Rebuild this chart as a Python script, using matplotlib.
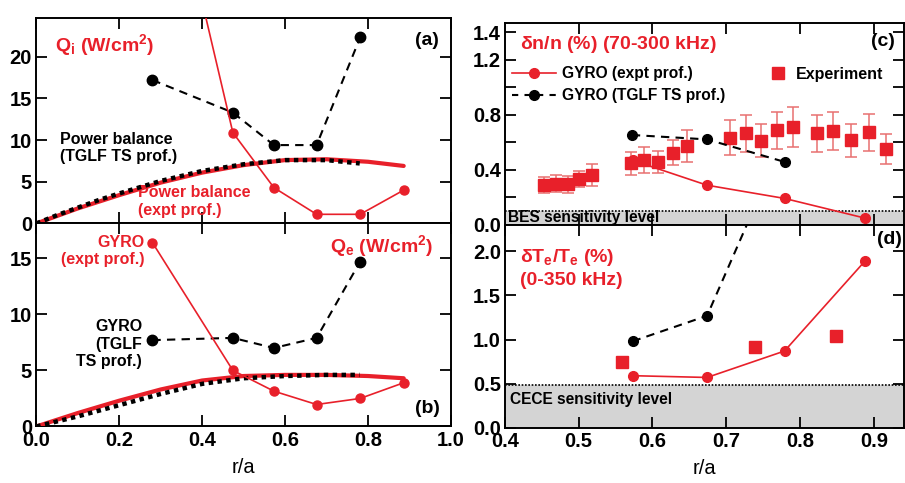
import matplotlib
matplotlib.use("Agg")
import matplotlib.pyplot as plt
from matplotlib.lines import Line2D

plt.rcParams['font.family'] = ['Liberation Sans', 'DejaVu Sans']
plt.rcParams['font.weight'] = 'bold'
plt.rcParams['mathtext.fontset'] = 'custom'
plt.rcParams['mathtext.rm'] = 'Liberation Sans:bold'
plt.rcParams['mathtext.it'] = 'Liberation Sans:bold'
plt.rcParams['mathtext.bf'] = 'Liberation Sans:bold'
plt.rcParams['mathtext.default'] = 'bf'

RED = '#e8202a'
ERR = '#e87070'

# ---------------- data ----------------
# GYRO radial points
r_gyro = [0.28, 0.474, 0.573, 0.676, 0.781, 0.886]
r_gyro_ts = [0.28, 0.474, 0.573, 0.676, 0.781]

# (a) ion heat flux Qi (W/cm^2)
qi_gyro_expt = [52.0, 10.9, 4.3, 1.1, 1.1, 4.0]
qi_gyro_ts = [17.2, 13.3, 9.4, 9.4, 22.3]
r_pb = [0, 0.05, 0.1, 0.15, 0.2, 0.3, 0.4, 0.5, 0.6, 0.7, 0.8, 0.886]
qi_pb_expt = [0, 0.9, 1.8, 2.6, 3.4, 4.9, 6.1, 7.0, 7.6, 7.7, 7.4, 6.9]
r_pb_ts = [0, 0.05, 0.1, 0.15, 0.2, 0.3, 0.4, 0.5, 0.6, 0.7, 0.78]
qi_pb_ts = [0, 1.0, 1.9, 2.8, 3.6, 5.1, 6.3, 7.1, 7.6, 7.6, 7.2]

# (b) electron heat flux Qe (W/cm^2)
qe_gyro_expt = [16.4, 5.0, 3.15, 1.96, 2.5, 3.9]
qe_gyro_ts = [7.7, 7.9, 7.0, 7.9, 14.7]
r_pbe = [0, 0.1, 0.2, 0.3, 0.4, 0.5, 0.6, 0.7, 0.8, 0.886]
qe_pb_expt = [0, 1.2, 2.3, 3.3, 4.1, 4.5, 4.6, 4.6, 4.5, 4.3]
r_pbe_ts = [0, 0.1, 0.2, 0.3, 0.4, 0.5, 0.6, 0.7, 0.78]
qe_pb_ts = [0, 0.9, 1.9, 2.9, 3.8, 4.3, 4.5, 4.6, 4.6]

# (c) density fluctuations dn/n (%)
r_bes = [0.453, 0.469, 0.485, 0.501, 0.518, 0.571, 0.589, 0.608, 0.628, 0.647,
         0.705, 0.727, 0.747, 0.769, 0.791, 0.823, 0.845, 0.869, 0.893, 0.917]
dn_exp = [0.29, 0.30, 0.296, 0.333, 0.365, 0.447, 0.474, 0.46, 0.526, 0.573,
          0.635, 0.667, 0.612, 0.687, 0.709, 0.667, 0.684, 0.617, 0.674, 0.55]
dn_err = [0.06, 0.06, 0.06, 0.06, 0.08, 0.085, 0.095, 0.08, 0.09, 0.115,
          0.13, 0.135, 0.12, 0.137, 0.145, 0.135, 0.14, 0.12, 0.135, 0.11]
r_dn_gyro = [0.573, 0.674, 0.779, 0.888]
dn_gyro_expt = [0.47, 0.289, 0.193, 0.05]
r_dn_gyro_ts = [0.572, 0.674, 0.78]
dn_gyro_ts = [0.654, 0.622, 0.457]
bes_level = 0.1

# (d) electron temperature fluctuations dTe/Te (%)
r_te_gyro = [0.573, 0.674, 0.779, 0.888]
dte_gyro_expt = [0.59, 0.57, 0.87, 1.89]
r_te_gyro_ts = [0.573, 0.674, 0.78]
dte_gyro_ts = [0.98, 1.27, 3.3]
r_cece = [0.559, 0.739, 0.849]
dte_exp = [0.74, 0.91, 1.04]
cece_level = 0.48

# ---------------- figure ----------------
fig = plt.figure(figsize=(9.05, 4.83), dpi=100)
axa = fig.add_axes([0.0401, 0.5373, 0.4582, 0.4248])
axb = fig.add_axes([0.0401, 0.1170, 0.4582, 0.4203])
axc = fig.add_axes([0.558, 0.5342, 0.4409, 0.4188])
axd = fig.add_axes([0.558, 0.1145, 0.4409, 0.4197])

TICK_FS = 14.5
for ax in (axa, axb, axc, axd):
    for s in ax.spines.values():
        s.set_linewidth(1.4)
    ax.tick_params(which='both', direction='in', top=True, right=True,
                   length=8, width=1.3, labelsize=TICK_FS, pad=3)

TITLE_FS = 14
NOTE_FS = 11.5

# (a)
axa.plot(r_pb, qi_pb_expt, color=RED, lw=3.0, solid_capstyle='round', zorder=3)
axa.plot(r_pb_ts, qi_pb_ts, color='black', lw=3.2, ls=(0, (1, 1)), zorder=4)
axa.plot(r_gyro_ts, qi_gyro_ts, color='black', lw=1.5, ls=(0, (4, 3)),
         marker='o', ms=7.5, zorder=5)
axa.plot(r_gyro, qi_gyro_expt, color=RED, lw=1.2, marker='o', ms=6.5,
         zorder=5, clip_on=True)
axa.set_xlim(0, 1)
axa.set_ylim(0, 24.6)
axa.set_xticks([0, 0.2, 0.4, 0.6, 0.8, 1.0])
axa.set_xticklabels([])
axa.set_yticks([0, 5, 10, 15, 20])
axa.text(0.045, 0.87, r'Q$_\mathregular{i}$ (W/cm$^\mathregular{2}$)', color=RED,
         fontsize=TITLE_FS, transform=axa.transAxes, va='center', ha='left')
axa.text(0.97, 0.894, '(a)', fontsize=14, transform=axa.transAxes,
         va='center', ha='right')
axa.text(0.057, 0.368, 'Power balance\n(TGLF TS prof.)', fontsize=NOTE_FS,
         transform=axa.transAxes, va='center', ha='left', linespacing=1.2)
axa.text(0.245, 0.108, 'Power balance\n(expt prof.)', fontsize=NOTE_FS, color=RED,
         transform=axa.transAxes, va='center', ha='left', linespacing=1.2)

# (b)
axb.plot(r_pbe, qe_pb_expt, color=RED, lw=3.0, solid_capstyle='round', zorder=3)
axb.plot(r_pbe_ts, qe_pb_ts, color='black', lw=3.2, ls=(0, (1, 1)), zorder=4)
axb.plot(r_gyro_ts, qe_gyro_ts, color='black', lw=1.5, ls=(0, (4, 3)),
         marker='o', ms=7.5, zorder=5)
axb.plot(r_gyro, qe_gyro_expt, color=RED, lw=1.2, marker='o', ms=6.5, zorder=5)
axb.set_xlim(0, 1)
axb.set_ylim(0, 18.1)
axb.set_xticks([0, 0.2, 0.4, 0.6, 0.8, 1.0])
axb.set_xticklabels(['0.0', '0.2', '0.4', '0.6', '0.8', '1.0'])
axb.set_yticks([0, 5, 10, 15])
axb.set_xlabel('r/a', fontsize=14.5, labelpad=6)
axb.text(0.262, 0.865, 'GYRO\n(expt prof.)', fontsize=NOTE_FS, color=RED,
         transform=axb.transAxes, va='center', ha='right', multialignment='right',
         linespacing=1.2)
axb.text(0.708, 0.889, r'Q$_\mathregular{e}$ (W/cm$^\mathregular{2}$)', color=RED,
         fontsize=TITLE_FS, transform=axb.transAxes, va='center', ha='left')
axb.text(0.255, 0.406, 'GYRO\n(TGLF\nTS prof.)', fontsize=NOTE_FS,
         transform=axb.transAxes, va='center', ha='right', multialignment='right',
         linespacing=1.2)
axb.text(0.973, 0.091, '(b)', fontsize=14, transform=axb.transAxes,
         va='center', ha='right')

# (c)
axc.axhspan(0, bes_level, color='#d4d4d4', zorder=0)
axc.axhline(bes_level, color='black', lw=1.2, ls=(0, (1, 1)), zorder=1)
axc.errorbar(r_bes, dn_exp, yerr=dn_err, fmt='none', ecolor=ERR, elinewidth=1.1,
             capsize=4, capthick=1.1, zorder=2)
axc.plot(r_bes, dn_exp, ls='none', marker='s', ms=8, color=RED, zorder=3)
axc.plot(r_dn_gyro_ts, dn_gyro_ts, color='black', lw=1.5, ls=(0, (4, 3)),
         marker='o', ms=7, zorder=4)
axc.plot(r_dn_gyro, dn_gyro_expt, color=RED, lw=1.2, marker='o', ms=7, zorder=4)
axc.set_xlim(0.4, 0.941)
axc.set_ylim(0, 1.47)
axc.set_xticks([0.5, 0.6, 0.7, 0.8, 0.9])
axc.set_xticklabels([])
axc.set_yticks([0, 0.4, 0.8, 1.2, 1.4])
axc.set_yticklabels(['0.0', '0.4', '0.8', '1.2', '1.4'])
axc.set_yticks([0.2, 0.6, 1.0], minor=True)
axc.text(0.038, 0.89, r'$\mathregular{\delta}$n/n (%) (70-300 kHz)', color=RED,
         fontsize=TITLE_FS, transform=axc.transAxes, va='center', ha='left')
axc.text(0.977, 0.905, '(c)', fontsize=14, transform=axc.transAxes,
         va='center', ha='right')
axc.text(0.008, 0.035, 'BES sensitivity level', fontsize=11.2,
         transform=axc.transAxes, va='center', ha='left')
h1 = Line2D([], [], color=RED, lw=1.2, marker='o', ms=7)
h2 = Line2D([], [], color='black', lw=1.5, ls=(0, (3, 3)), marker='o', ms=7)
leg = axc.legend([h1, h2], ['GYRO (expt prof.)', 'GYRO (TGLF TS prof.)'],
                 loc='upper left', bbox_to_anchor=(-0.005, 0.83), frameon=False,
                 fontsize=11.2, handlelength=2.8, handletextpad=0.4,
                 labelspacing=0.45, borderaxespad=0.2)
axc.add_artist(leg)
h3 = Line2D([], [], ls='none', marker='s', ms=9, color=RED)
axc.legend([h3], ['Experiment'], loc='upper left', bbox_to_anchor=(0.64, 0.83),
           frameon=False, fontsize=11.5, handlelength=1.0, handletextpad=0.6,
           borderaxespad=0.2)

# (d)
axd.axhspan(0, cece_level, color='#d4d4d4', zorder=0)
axd.axhline(cece_level, color='black', lw=1.2, ls=(0, (1, 1)), zorder=1)
axd.plot(r_te_gyro_ts, dte_gyro_ts, color='black', lw=1.5, ls=(0, (4, 3)),
         marker='o', ms=7, zorder=4)
axd.plot(r_te_gyro, dte_gyro_expt, color=RED, lw=1.2, marker='o', ms=7, zorder=4)
axd.plot(r_cece, dte_exp, ls='none', marker='s', ms=8, color=RED, zorder=3)
axd.set_xlim(0.4, 0.941)
axd.set_ylim(0, 2.3)
axd.set_xticks([0.4, 0.5, 0.6, 0.7, 0.8, 0.9])
axd.set_xticklabels(['0.4', '0.5', '0.6', '0.7', '0.8', '0.9'])
axd.set_yticks([0, 0.5, 1.0, 1.5, 2.0])
axd.set_yticklabels(['0.0', '0.5', '1.0', '1.5', '2.0'])
axd.set_xlabel('r/a', fontsize=14.5, labelpad=6)
axd.text(0.038, 0.79, r'$\mathregular{\delta}$T$_\mathregular{e}$/T$_\mathregular{e}$ (%)' + '\n(0-350 kHz)',
         color=RED, fontsize=TITLE_FS, transform=axd.transAxes, va='center', ha='left',
         linespacing=1.3)
axd.text(0.995, 0.926, '(d)', fontsize=14, transform=axd.transAxes,
         va='center', ha='right')
axd.text(0.013, 0.137, 'CECE sensitivity level', fontsize=11.2,
         transform=axd.transAxes, va='center', ha='left')

fig.savefig('out.png', dpi=100)
